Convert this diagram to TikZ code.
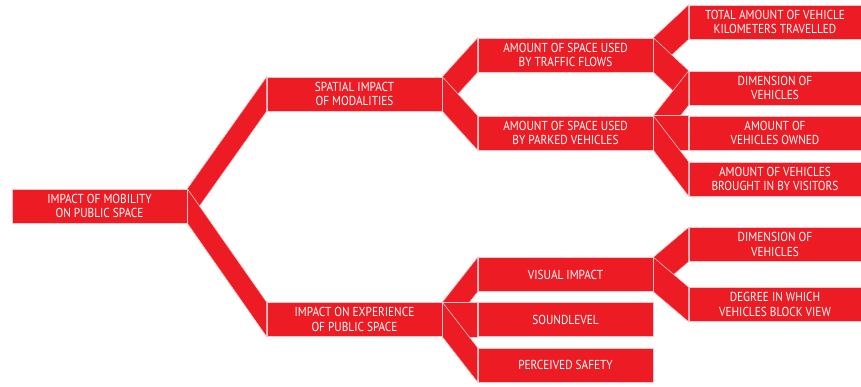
\documentclass[tikz,border=0pt]{standalone}
\usepackage{fontspec}
\setmainfont{PT Sans}[FakeStretch=0.87]
\usetikzlibrary{backgrounds}
\definecolor{brandred}{RGB}{237,28,36}
\definecolor{seam}{RGB}{248,196,198}
% ribbon joining the right side of one box to the left side of another
\newcommand\linkband[2]{%
  \path[band] (#1.north east) -- (#2.north west) -- (#2.south west) -- (#1.south east) -- cycle;}
\begin{document}
\begin{tikzpicture}[x=1pt,y=-1pt,
  box/.style={fill=brandred, draw=seam, line width=0.6pt,
    minimum width=175pt, minimum height=34pt, inner sep=0pt,
    text=white, align=center, font=\fontsize{13}{14.5}\selectfont},
  leaf/.style={box, minimum width=172pt},
  band/.style={fill=brandred, draw=seam, line width=0.6pt, line join=miter}]
\useasboundingbox (0,0) rectangle (861,387);

% level 0
\node[box] (root) at (99.5,206) {IMPACT OF MOBILITY\\ON PUBLIC SPACE};
% level 1
\node[box] (spatial) at (354.5,94) {SPATIAL IMPACT\\OF MODALITIES};
\node[box] (exper) at (354.5,319.5) {IMPACT ON EXPERIENCE\\OF PUBLIC SPACE};
% level 2
\node[box] (traffic) at (565.5,55) {AMOUNT OF SPACE USED\\BY TRAFFIC FLOWS};
\node[box] (parked) at (565.5,133) {AMOUNT OF SPACE USED\\BY PARKED VEHICLES};
\node[box] (visual) at (565.5,274.5) {VISUAL IMPACT};
\node[box] (sound) at (565.5,319.5) {SOUNDLEVEL};
\node[box] (safety) at (565.5,365) {PERCEIVED SAFETY};
% level 3
\node[leaf] (km) at (775,22) {TOTAL AMOUNT OF VEHICLE\\KILOMETERS TRAVELLED};
\node[leaf] (dimA) at (775,88) {DIMENSION OF\\VEHICLES};
\node[leaf] (owned) at (775,133) {AMOUNT OF\\VEHICLES OWNED};
\node[leaf] (visitors) at (775,179) {AMOUNT OF VEHICLES\\BROUGHT IN BY VISITORS};
\node[leaf] (dimB) at (775,244.5) {DIMENSION OF\\VEHICLES};
\node[leaf] (block) at (775,304.5) {DEGREE IN WHICH\\VEHICLES BLOCK VIEW};

\begin{pgfonlayer}{background}
  \linkband{root}{spatial}
  \linkband{root}{exper}
  \linkband{spatial}{traffic}
  \linkband{spatial}{parked}
  \linkband{traffic}{km}
  \linkband{traffic}{dimA}
  \linkband{parked}{dimA}
  \linkband{parked}{owned}
  \linkband{parked}{visitors}
  \linkband{exper}{visual}
  \linkband{exper}{sound}
  \linkband{exper}{safety}
  \linkband{visual}{dimB}
  \linkband{visual}{block}
\end{pgfonlayer}
\end{tikzpicture}
\end{document}
